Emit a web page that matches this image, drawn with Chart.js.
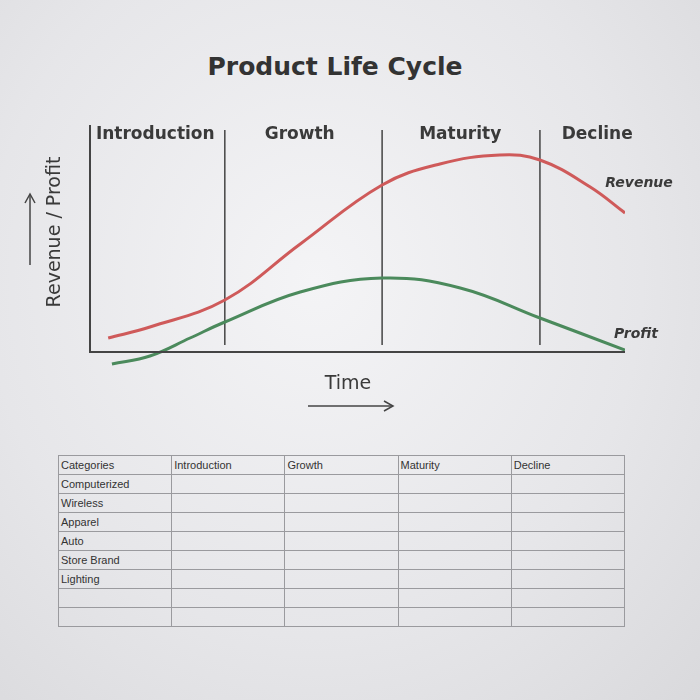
<!DOCTYPE html>
<html>
<head>
<meta charset="utf-8">
<script src="https://cdn.jsdelivr.net/npm/chart.js@4"></script>
<style>
  body { margin: 0; width: 700px; height: 700px; overflow: hidden;
         background: radial-gradient(ellipse at 45% 40%, #f4f4f6 0%, #e6e6e9 60%, #d9d9dc 100%);
         font-family: "DejaVu Sans", sans-serif; position: relative; }
  #title { position: absolute; top: 52px; left: 0; width: 670px; text-align: center;
           font-weight: bold; font-size: 25px; color: #333; }
  #wrap { position: absolute; left: 0; top: 0; width: 700px; height: 420px; }
  table { position: absolute; left: 58px; top: 455px; width: 567px; border-collapse: collapse;
          font-family: "Liberation Sans", sans-serif; font-size: 11px; color: #333; }
  td { border: 1px solid #9a9a9e; height: 18px; padding: 0 2px; vertical-align: middle; width: 20%; }
</style>
</head>
<body>
<div id="title">Product Life Cycle</div>
<div id="wrap"><canvas id="chart"></canvas></div>
<table id="tbl"></table>
<script>
// curve data (x: time 0-100, y: level)
const revenueX = [3.4, 11.2, 25.2, 39.3, 54.6, 65.4, 76.6, 84.1, 93.5, 100]
const revenueY = [14, 25, 52, 108, 167, 188, 197, 192, 165, 139]
const profitX = [4.1, 11.2, 18.7, 25.2, 39.3, 54.6, 69.2, 84.1, 100]
const profitY = [-12, -4, 14, 30, 60, 74, 64, 34, 2]
const phases = ['Introduction', 'Growth', 'Maturity', 'Decline']
const phaseLabelX = [12.2, 39.2, 69.2, 94.8]
const dividers = [25.2, 54.6, 84.1]
const categories = ['Computerized', 'Wireless', 'Apparel', 'Auto', 'Store Brand', 'Lighting', '', '']

const toPoints = (xs, ys) => xs.map((x, i) => ({ x: x, y: ys[i] }))

const dividerSets = dividers.map(d => ({
    data: [{ x: d, y: 7 }, { x: d, y: 222 }],
    borderColor: '#444', borderWidth: 1.5, pointRadius: 0
}))

const textPlugin = {
    id: 'texts',
    afterDraw: (chart) => {
        const ctx = chart.ctx
        const sx = chart.scales.x, sy = chart.scales.y
        ctx.save()
        // axes
        ctx.strokeStyle = '#444'; ctx.lineWidth = 2
        ctx.beginPath()
        ctx.moveTo(sx.getPixelForValue(0), sy.getPixelForValue(227))
        ctx.lineTo(sx.getPixelForValue(0), sy.getPixelForValue(0))
        ctx.lineTo(sx.getPixelForValue(100), sy.getPixelForValue(0))
        ctx.stroke()
        // phase labels
        ctx.fillStyle = '#3a3a3a'
        ctx.font = 'bold 17px "DejaVu Sans"'
        ctx.textAlign = 'center'
        phases.forEach((p, i) => ctx.fillText(p, sx.getPixelForValue(phaseLabelX[i]), 139))
        // series labels
        ctx.font = 'italic bold 14px "DejaVu Sans"'
        ctx.fillText('Revenue', 639, 187)
        ctx.fillText('Profit', 636, 338)
        // Time label + arrow
        ctx.font = '19px "DejaVu Sans"'
        ctx.fillText('Time', 348, 389)
        ctx.lineWidth = 1.5
        ctx.beginPath(); ctx.moveTo(308, 406); ctx.lineTo(392, 406); ctx.stroke()
        ctx.beginPath(); ctx.moveTo(384, 401); ctx.lineTo(393, 406); ctx.lineTo(384, 411); ctx.stroke()
        // y label + arrow
        ctx.translate(60, 232); ctx.rotate(-Math.PI / 2)
        ctx.fillText('Revenue / Profit', 0, 0)
        ctx.restore()
        ctx.save()
        ctx.strokeStyle = '#444'; ctx.lineWidth = 1.5
        ctx.beginPath(); ctx.moveTo(30, 265); ctx.lineTo(30, 195); ctx.stroke()
        ctx.beginPath(); ctx.moveTo(25, 203); ctx.lineTo(30, 194); ctx.lineTo(35, 203); ctx.stroke()
        ctx.restore()
    }
}

new Chart(document.getElementById('chart'), {
    type: 'line',
    data: {
        datasets: [
            { data: toPoints(revenueX, revenueY), borderColor: '#cf5a5a', borderWidth: 3,
              pointRadius: 0, tension: 0.4 },
            { data: toPoints(profitX, profitY), borderColor: '#4b8a5c', borderWidth: 3,
              pointRadius: 0, tension: 0.4 },
            ...dividerSets
        ]
    },
    options: {
        responsive: true, maintainAspectRatio: false, animation: false,
        layout: { padding: { left: 90, right: 75, top: 122, bottom: 48 } },
        plugins: { legend: { display: false }, tooltip: { enabled: false } },
        scales: {
            x: { type: 'linear', min: 0, max: 100, display: false },
            y: { min: -20, max: 230, display: false }
        }
    },
    plugins: [textPlugin]
})

// table
const tbl = document.getElementById('tbl')
const header = ['Categories', ...phases]
const rows = [header, ...categories.map(c => [c, '', '', '', ''])]
rows.forEach(r => {
    const tr = document.createElement('tr')
    r.forEach(c => {
        const td = document.createElement('td')
        td.textContent = c
        tr.appendChild(td)
    })
    tbl.appendChild(tr)
})
</script>
</body>
</html>
